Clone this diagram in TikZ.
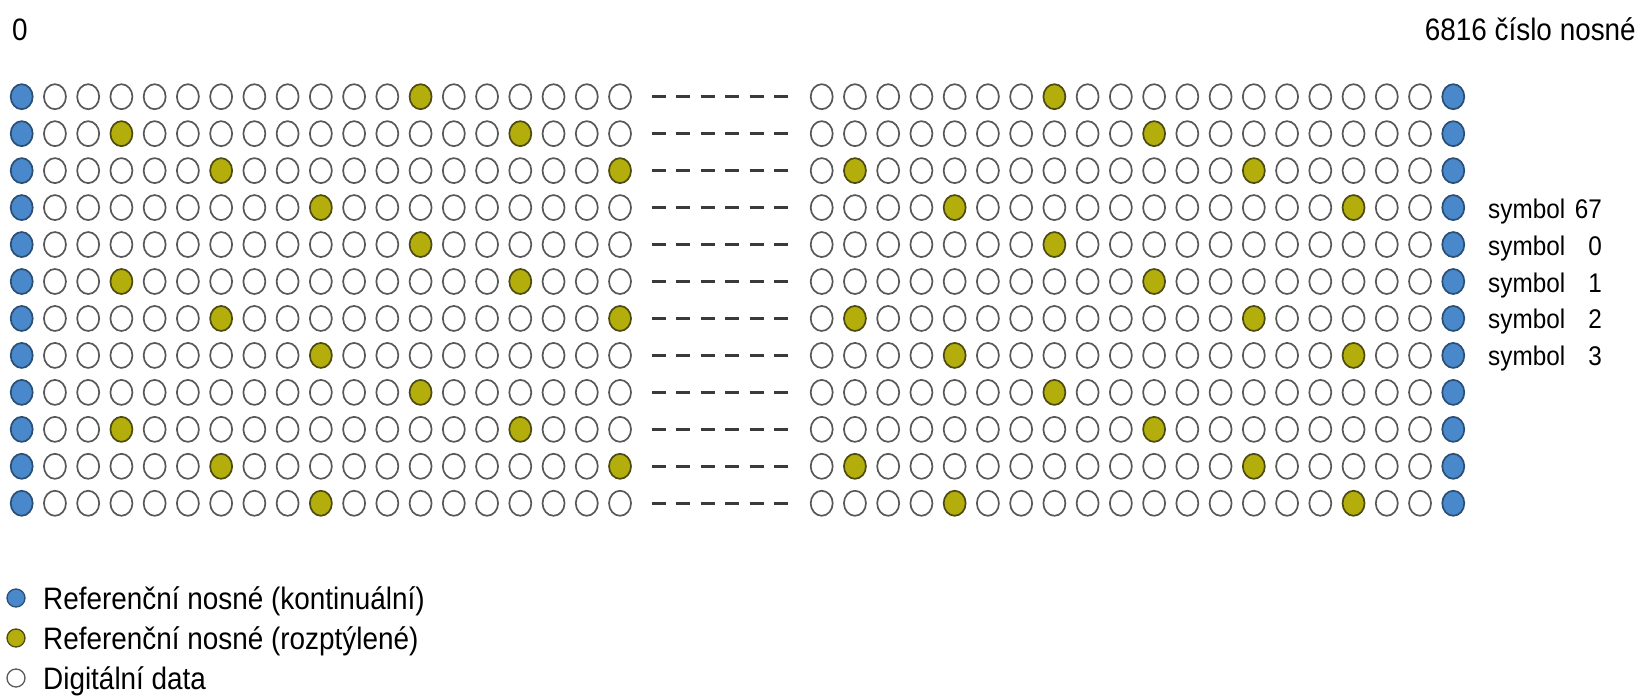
\documentclass[tikz,border=0pt]{standalone}
\usepackage{fontspec}
\setmainfont{Liberation Sans}[FakeStretch=0.9]
\usetikzlibrary{shapes.geometric}
\definecolor{bluefill}{HTML}{4A88CC}
\definecolor{blueline}{HTML}{2B4E73}
\definecolor{olivefill}{HTML}{B3AE0C}
\definecolor{oliveline}{HTML}{4D4A12}
\definecolor{ringline}{HTML}{585858}
\definecolor{dashcol}{HTML}{3A3A3A}
\begin{document}
\begin{tikzpicture}[x=1pt,y=-1pt,
  dot/.style={ellipse, inner sep=0pt, minimum width=22pt, minimum height=25pt, line width=1.7pt},
  datadot/.style={dot, draw=ringline, fill=white},
  contdot/.style={dot, draw=blueline, fill=bluefill},
  scatdot/.style={dot, draw=oliveline, fill=olivefill},
  gapline/.style={draw=dashcol, line width=2.7pt, dash pattern=on 14pt off 10.5pt},
  toplabel/.style={font=\fontsize{31}{33}\selectfont, inner sep=0pt},
  symlabel/.style={font=\fontsize{27}{29}\selectfont, inner sep=0pt},
  legtext/.style={font=\fontsize{31}{33}\selectfont, inner sep=0pt, anchor=base west},
  legdot/.style={circle, inner sep=0pt, minimum size=18pt, line width=1.3pt}
]
\useasboundingbox[fill=white] (0,0) rectangle (1640,699);

\foreach \r in {0,...,11}{
  \pgfmathsetmacro{\yy}{96.7+36.96*\r}
  \pgfmathtruncatemacro{\ph}{3*mod(\r,4)}
  % left block
  \foreach \c in {0,...,18}{
    \pgfmathtruncatemacro{\m}{mod(\c-\ph+120,12)}
    \ifnum\c=0 \def\st{contdot}\else\ifnum\m=0 \def\st{scatdot}\else\def\st{datadot}\fi\fi
    \node[\st] (L-\r-\c) at ({21.7+33.24*\c},\yy) {};
  }
  % right block
  \foreach \c in {0,...,19}{
    \pgfmathtruncatemacro{\m}{mod(\c-7-\ph+120,12)}
    \ifnum\c=19 \def\st{contdot}\else\ifnum\m=0 \def\st{scatdot}\else\def\st{datadot}\fi\fi
    \node[\st] (R-\r-\c) at ({821.7+33.24*\c},\yy) {};
  }
  % gap dashes
  \coordinate (gA-\r) at (651.7,\yy);
  \coordinate (gB-\r) at (788.3,\yy);
  \draw[gapline] (gA-\r) -- (gB-\r);
}

% top labels
\node[toplabel, anchor=base west] (zero) at (12,40) {0};
\node[toplabel, anchor=base east] (last) at (1636,40) {6816 číslo nosné};

% symbol labels
\foreach \r/\n in {3/67,4/0,5/1,6/2,7/3}{
  \pgfmathsetmacro{\yy}{96.7+36.96*\r+10.5}
  \node[symlabel, anchor=base west] (sym-\r) at (1488,\yy) {symbol};
  \node[symlabel, anchor=base east] (num-\r) at (1602,\yy) {\n};
}

% legend
\node[legdot, draw=blueline, fill=bluefill] (lg1) at (16,598) {};
\node[legdot, draw=oliveline, fill=olivefill] (lg2) at (16,638) {};
\node[legdot, draw=ringline, fill=white] (lg3) at (16,678) {};
\node[legtext] (lt1) at (43,609.5) {Referenční nosné (kontinuální)};
\node[legtext] (lt2) at (43,649.5) {Referenční nosné (rozptýlené)};
\node[legtext] (lt3) at (43,689.5) {Digitální data};
\end{tikzpicture}
\end{document}
